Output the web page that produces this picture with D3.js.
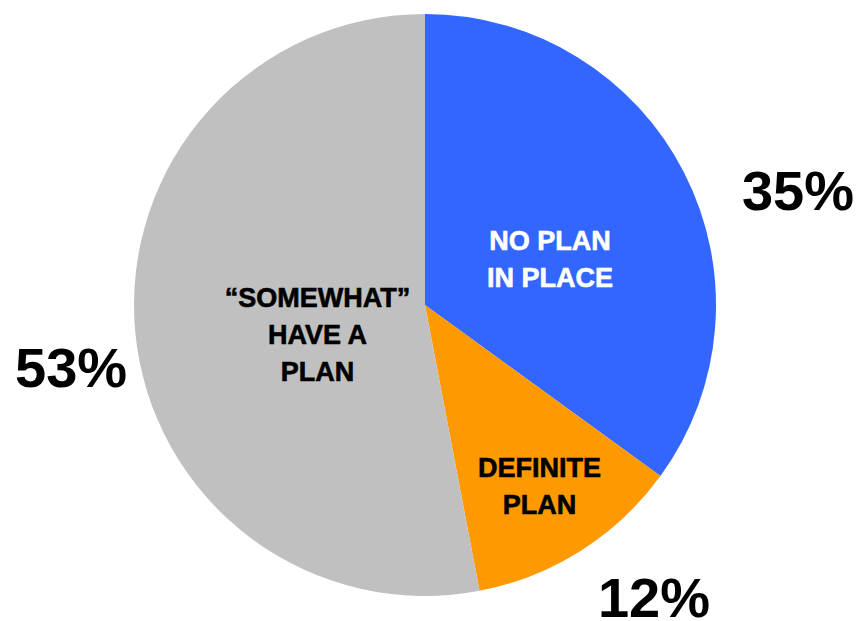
<!DOCTYPE html>
<html>
<head>
<meta charset="utf-8">
<script src="https://cdn.jsdelivr.net/npm/d3@7"></script>
<style>
  body { margin: 0; background: #fff; }
  text { font-family: Arial, "Liberation Sans", sans-serif; font-weight: bold; }
</style>
</head>
<body>
<svg id="chart" width="858" height="621"></svg>
<script>
// slice data, clockwise from 12 o'clock
const categories = ["NO PLAN IN PLACE", "DEFINITE PLAN", "\u201CSOMEWHAT\u201D HAVE A PLAN"];
const values = [35, 12, 53];
const pctLabels = ["35%", "12%", "53%"];
const innerLines = [["NO PLAN", "IN PLACE"], ["DEFINITE", "PLAN"], ["\u201CSOMEWHAT\u201D", "HAVE A", "PLAN"]];
const colors = ["#3366FF", "#FF9900", "#C0C0C0"];
const textColors = ["#fff", "#000", "#000"];

const svg = d3.select("#chart");
const cx = 425, cy = 305, radius = 291;
const g = svg.append("g").attr("transform", `translate(${cx},${cy})`);

const data = categories.map((c, i) => ({ name: c, value: values[i], i }));

const pie = d3.pie().value(d => d.value).sort(null);
const arc = d3.arc().innerRadius(0).outerRadius(radius);
const arcs = pie(data);

g.selectAll("path.slice")
  .data(arcs)
  .join("path")
  .attr("class", "slice")
  .attr("d", arc)
  .attr("fill", d => colors[d.data.i]);

const rad = deg => deg * Math.PI / 180;
// polar point from slice mid angle, shifted a bit and scaled by radius
function polar(a, rf, shiftDeg) {
  const ang = (a.startAngle + a.endAngle) / 2 + rad(shiftDeg);
  return [Math.sin(ang) * radius * rf, -Math.cos(ang) * radius * rf];
}

// inner labels
const innerR = [0.458, 0.734, 0.383];
const innerShift = [6.8, 0, -9.7];
const lineH = 37;
arcs.forEach((a, k) => {
  const [x, y] = polar(a, innerR[k], innerShift[k]);
  const lines = innerLines[k];
  const t = g.append("text")
    .attr("text-anchor", "middle")
    .attr("fill", textColors[k])
    .attr("stroke", textColors[k])
    .attr("stroke-width", 0.6)
    .attr("font-size", 27);
  lines.forEach((ln, j) => {
    t.append("tspan")
      .attr("x", x)
      .attr("y", y + (j - (lines.length - 1) / 2) * lineH + 10)
      .text(ln);
  });
});

// outer percentage labels
const outerR = [1.341, 1.275, 1.235];
const outerShift = [9.9, -5.7, -4.6];
arcs.forEach((a, k) => {
  const [x, y] = polar(a, outerR[k], outerShift[k]);
  g.append("text")
    .attr("x", x)
    .attr("y", y + 20)
    .attr("text-anchor", "middle")
    .attr("font-size", 56)
    .attr("fill", "#000")
    .text(pctLabels[k]);
});
</script>
</body>
</html>
